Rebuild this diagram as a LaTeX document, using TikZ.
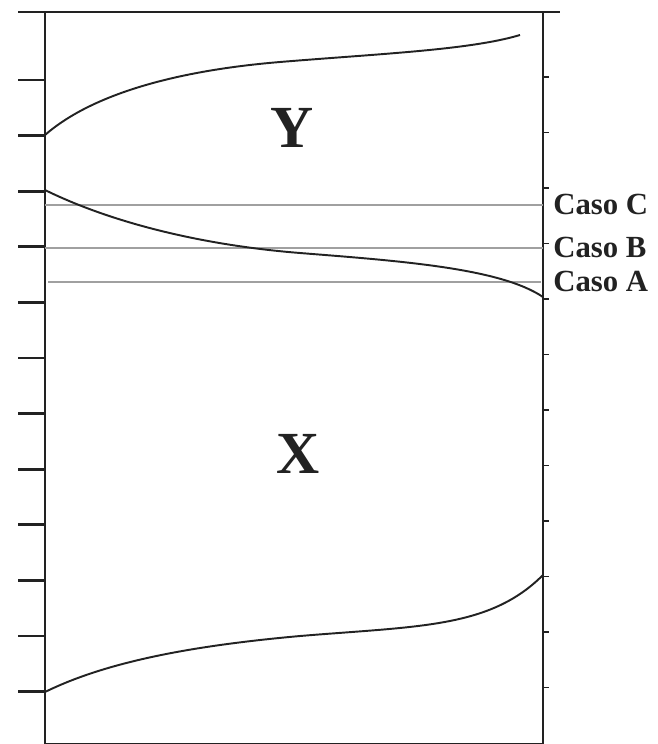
\documentclass[tikz,border=0pt]{standalone}
\usepackage{fontspec}
\setmainfont{Liberation Serif}
\usepackage{xcolor}
\usetikzlibrary{positioning}
\definecolor{axisblack}{HTML}{222222}
\definecolor{casogray}{HTML}{A0A0A0}

\begin{document}
\begin{tikzpicture}[
  x=0.02cm, y=-0.02cm,
  axis/.style={line width=1.4pt, axisblack},
  curve/.style={line width=1.1pt, axisblack, line join=round},
  caso/.style={line width=1.1pt, casogray},
  lbl/.style={font=\bfseries\fontsize{17.5}{17.5}\selectfont, anchor=west, inner sep=0pt, text=axisblack},
  zone/.style={font=\bfseries\fontsize{34}{34}\selectfont, inner sep=0pt, text=axisblack},
]
\useasboundingbox (0,0) rectangle (657,744);
% frame
\coordinate (tl) at (45,12);
\coordinate (tr) at (543,12);
\coordinate (bl) at (45,744);
\coordinate (br) at (543,744);
\draw[axis] (18,12) -- (560,12);
\draw[axis] (tl) -- (bl);
\draw[axis] (tr) -- (br);
\draw[axis] (bl) -- (br);
% ticks
\foreach \k in {0,...,11}
  \draw[axis, line width=1.6pt] (18,80+55.6*\k) -- (45,80+55.6*\k);
\foreach \k in {0,...,11}
  \draw[axis, line width=1pt] (543,77+55.5*\k) -- (549,77+55.5*\k);
% casos
\draw[caso] (45,205) -- (543,205);
\draw[caso] (45,248) -- (543,248);
\draw[caso] (48,282) -- (541,282);
\node[lbl] (casoC) at (553,204) {Caso C};
\node[lbl] (casoB) at (553,247) {Caso B};
\node[lbl] (casoA) at (553,281) {Caso A};
% curves
\draw[curve] (45,135) .. controls (85,100) and (160,72) .. (280,62)
  .. controls (380,53.7) and (470,50) .. (520,35);
\draw[curve] (45,190) .. controls (110,222) and (200,245) .. (300,253)
  .. controls (400,261) and (500,268) .. (543,297);
\draw[curve] (45,692) .. controls (110,660) and (200,645) .. (300,636)
  .. controls (420,626) and (490,628) .. (543,575);
% zones
\node[zone] (zoneY) at (292,128) {Y};
\node[zone] (zoneX) at (298,454) {X};
\end{tikzpicture}
\end{document}
